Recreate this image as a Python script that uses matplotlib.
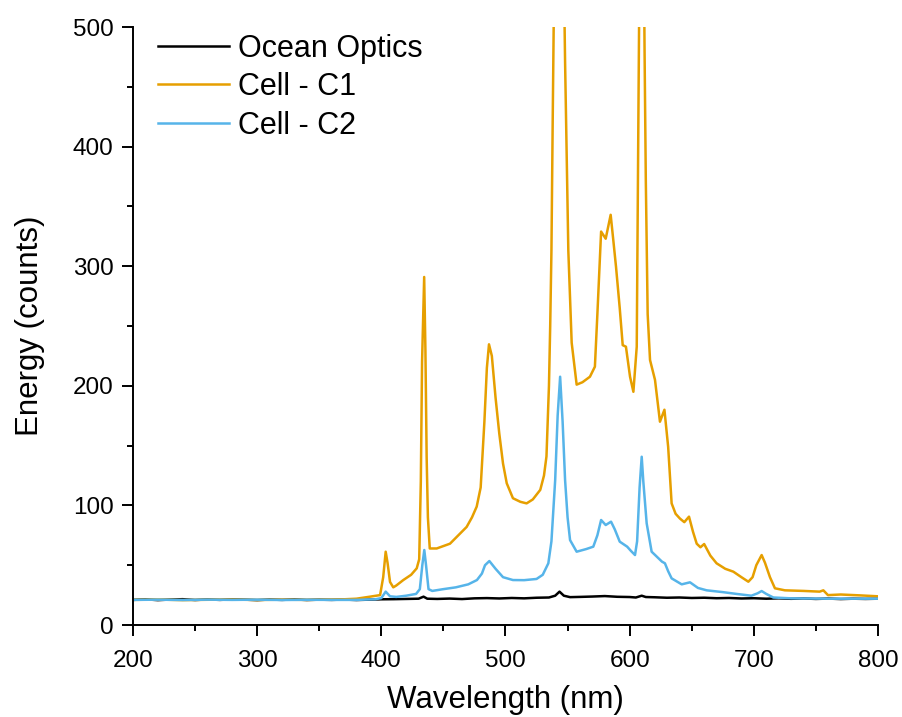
import matplotlib
matplotlib.use("Agg")
import matplotlib.pyplot as plt
import matplotlib.ticker as mticker
import numpy as np

plt.rcParams['font.family'] = ['Liberation Sans', 'DejaVu Sans']

# Ocean Optics reference spectrum
wl_oo = [200, 210, 220, 230, 240, 250, 260, 270, 280, 290, 300, 310, 320, 330, 340, 350,
         360, 370, 380, 390, 400, 410, 420, 430, 434, 437, 445, 455, 465, 475, 485, 495,
         505, 515, 525, 535, 540, 543.5, 547, 552, 560, 570, 580, 590, 600, 605, 609.7,
         613, 620, 630, 640, 650, 660, 670, 680, 690, 700, 710, 720, 730, 740, 750, 760,
         770, 780, 790, 800]
e_oo = [21.0, 21.5, 20.8, 21.3, 21.6, 20.9, 21.4, 21.0, 21.5, 21.2, 20.8, 21.3, 21.0, 21.4,
        20.9, 21.2, 21.0, 21.3, 20.9, 21.2, 21.5, 21.6, 21.8, 22.0, 23.7, 22.0, 21.8, 22.1,
        21.7, 22.3, 22.5, 22.2, 22.6, 22.3, 22.8, 23.0, 24.5, 27.9, 24.5, 23.3, 23.5, 23.8,
        24.2, 23.6, 23.4, 23.0, 24.5, 23.4, 23.2, 22.8, 23.0, 22.6, 22.8, 22.4, 22.6, 22.2,
        22.4, 22.0, 22.3, 21.9, 22.2, 21.8, 22.1, 21.7, 22.0, 21.8, 22.0]

# Cell - C1
wl_c1 = [200, 220, 240, 260, 280, 300, 320, 340, 360, 370, 380, 390.9, 399, 401.5, 403.5,
         405, 407, 409.6, 412, 417.7, 424, 428.5, 430.5, 431.8, 432.8, 434.5, 435.5, 436.5,
         437.5, 439, 444.6, 455.3, 462, 468.7, 473, 476.8, 480, 483, 485, 486.7, 489, 492,
         495, 498, 501, 506, 512, 517, 522, 528, 531, 533, 535, 536, 537, 538, 540, 543,
         546, 548, 550.6, 553.3, 557.3, 562, 568, 572, 574, 577, 580.7, 584.7, 587, 589,
         592, 594.4, 597, 600.3, 603, 605.7, 607, 608, 609.7, 611, 612, 613, 614.5, 616.4,
         620.4, 624.4, 628, 631, 633.8, 637, 640.5, 644, 647.8, 651, 654, 657, 660, 665,
         670, 677, 683.5, 690, 695.6, 699, 702, 706.3, 709, 713, 717, 725, 740, 753, 756,
         759.7, 770, 785, 800]
e_c1 = [21.0, 21.3, 20.8, 21.1, 21.3, 20.9, 21.2, 21.0, 21.3, 21.5, 22.0, 23.7, 25.0, 40.0,
        61.3, 52.0, 36.0, 31.5, 33.0, 37.6, 42.0, 47.4, 55.0, 120.0, 220.0, 291.0, 230.0,
        140.0, 90.0, 64.0, 64.0, 68.0, 75.0, 82.0, 90.0, 99.0, 115.0, 170.0, 215.0, 234.7,
        225.0, 190.0, 160.0, 135.0, 118.5, 106.0, 103.0, 101.7, 105.0, 113.0, 125.0, 141.0,
        200.0, 250.0, 313.0, 420.0, 620.0, 800.0, 620.0, 470.0, 313.0, 236.0, 201.0, 203.0,
        207.6, 216.0, 260.0, 329.0, 323.0, 343.0, 320.0, 299.6, 265.0, 234.0, 232.7, 207.6,
        195.0, 232.7, 420.0, 560.0, 800.0, 620.0, 480.0, 372.0, 260.0, 221.6, 205.0, 170.0,
        180.0, 149.0, 101.7, 93.0, 89.0, 86.0, 90.6, 78.0, 68.0, 65.0, 67.7, 58.0, 51.6,
        47.0, 44.6, 40.0, 36.2, 40.0, 50.0, 58.5, 52.0, 40.0, 30.7, 29.0, 28.5, 27.9, 29.0,
        25.0, 25.5, 24.8, 24.0]

# Cell - C2
wl_c2 = [200, 220, 240, 260, 280, 300, 320, 340, 360, 380, 395, 400, 403.5, 407, 412, 420,
         428, 431, 433, 434.6, 436, 438, 441, 450, 460, 470, 477, 481, 483.5, 487, 492,
         498, 506, 515, 525, 530, 534.5, 537, 540, 542, 544, 546, 548, 550, 552, 557.3,
         565, 570.7, 574, 577, 580.7, 585, 588, 592, 598, 601, 604.3, 606, 608, 609.7,
         611, 613.7, 617.7, 622, 626, 628.4, 631, 633.8, 641.9, 648.6, 655, 662, 675, 686,
         698, 703, 706.3, 710, 715.7, 730, 760, 800]
e_c2 = [21.0, 21.2, 20.9, 21.2, 21.0, 21.2, 20.9, 21.1, 21.0, 21.0, 21.5, 22.5, 27.9, 24.0,
        23.5, 24.5, 26.0, 30.0, 50.0, 62.7, 50.0, 30.0, 28.5, 30.0, 31.5, 34.0, 37.6, 43.0,
        50.0, 53.5, 47.0, 40.0, 37.6, 37.5, 38.5, 42.0, 51.6, 70.0, 121.0, 175.0, 207.6,
        170.0, 121.0, 90.0, 71.0, 61.3, 63.5, 65.5, 75.0, 87.8, 83.6, 86.4, 80.0, 69.7,
        65.5, 62.0, 58.5, 70.0, 115.0, 140.7, 120.0, 85.0, 61.3, 57.0, 53.0, 51.6, 45.0,
        39.0, 34.0, 35.7, 31.0, 29.0, 27.5, 26.0, 24.5, 26.5, 28.4, 26.0, 23.0, 22.3,
        22.0, 22.0]

labels = ["Ocean Optics", "Cell - C1", "Cell - C2"]
colors = ["#000000", "#E69F00", "#56B4E9"]

fig = plt.figure(figsize=(9.03, 7.17), dpi=100)
ax = fig.add_axes([0.1473, 0.1283, 0.8250, 0.8340])

ax.plot(wl_oo, e_oo, color=colors[0], lw=1.8, label=labels[0])
ax.plot(wl_c1, e_c1, color=colors[1], lw=1.8, label=labels[1])
ax.plot(wl_c2, e_c2, color=colors[2], lw=1.8, label=labels[2])

ax.set_xlim(200, 800)
ax.set_ylim(0, 500)
ax.xaxis.set_major_locator(mticker.MultipleLocator(100))
ax.xaxis.set_minor_locator(mticker.MultipleLocator(50))
ax.yaxis.set_major_locator(mticker.MultipleLocator(100))
ax.yaxis.set_minor_locator(mticker.MultipleLocator(50))

for s in ["top", "right"]:
    ax.spines[s].set_visible(False)
for s in ["left", "bottom"]:
    ax.spines[s].set_linewidth(1.4)

ax.tick_params(which="major", direction="out", length=8, width=1.4, labelsize=17.5, pad=6)
ax.tick_params(axis="x", which="major", pad=10)
ax.tick_params(which="minor", direction="out", length=4, width=1.4)

ax.set_xlabel("Wavelength (nm)", fontsize=22.5, labelpad=9)
ax.set_ylabel("Energy (counts)", fontsize=22.5, labelpad=20)

ax.legend(loc="upper left", bbox_to_anchor=(-0.003, 1.035), frameon=False, fontsize=22,
          handlelength=2.3, handletextpad=0.3, labelspacing=0.28)

fig.savefig("out.png", dpi=100)
